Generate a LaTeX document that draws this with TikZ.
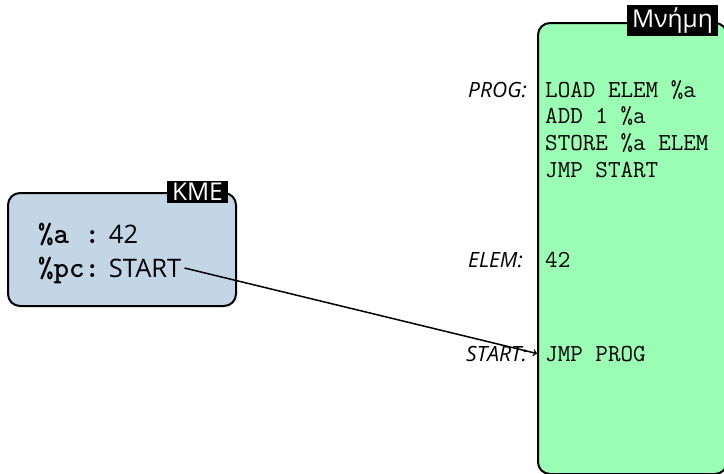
\documentclass[tikz,border=0pt]{standalone}
\usepackage{fontspec}
\setmainfont{Open Sans}
\usetikzlibrary{calc}
\definecolor{kmefill}{RGB}{195,214,230}
\definecolor{memfill}{RGB}{155,252,180}
\newcommand\kmt[1]{{\fontsize{29.5}{32}\selectfont\ttfamily\bfseries #1}}
\begin{document}
\begin{tikzpicture}[x=1pt,y=-1pt,
  box/.style={draw=black, line width=2pt, rounded corners=12pt, inner sep=0pt},
  tag/.style={fill=black, text=white, inner xsep=5pt, inner ysep=2.3pt, font=\fontsize{24.5}{28}\selectfont},
  kline/.style={anchor=base west, inner sep=0pt, font=\fontsize{25.5}{28}\selectfont},
  mline/.style={anchor=base west, inner sep=0pt, font=\fontsize{24.4}{27}\selectfont\ttfamily},
  mlabel/.style={anchor=base east, inner sep=0pt, font=\fontsize{21}{24}\selectfont\itshape},
  link/.style={->, line width=1.5pt}]
\useasboundingbox (0,0) rectangle (724,474);
\begin{scope}
  \clip (0,0) rectangle (724,474);
  \node[box, fill=memfill, minimum width=189pt, minimum height=451pt] (mem) at (632.5,248.5) {};
\end{scope}
\node[tag, anchor=east] (memtag) at ([xshift=-10pt,yshift=1.5pt]mem.north east) {Μνήμη};

\node[box, fill=kmefill, minimum width=228pt, minimum height=113pt] (kme) at (122,249.5) {};
\node[tag, anchor=east] (kmetag) at ([xshift=-9pt]kme.north east) {KME};
\node[kline] (areg) at (38,243) {\kmt{\%a :} 42};
\node[kline] (pcreg) at (38,277) {\kmt{\%pc:} START};

\node[mline] (p1) at (545,97) {LOAD ELEM \%a};
\node[mline] (p2) at (545,123.7) {ADD 1 \%a};
\node[mline] (p3) at (545,150.4) {STORE \%a ELEM};
\node[mline] (p4) at (545,177) {JMP START};
\node[mline] (elemv) at (545,267) {42};
\node[mline] (jmp) at (545,361) {JMP PROG};

\node[mlabel] (lprog) at (527,97) {PROG:};
\node[mlabel] (lelem) at (523,267) {ELEM:};
\node[mlabel] (lstart) at (527,361) {START:};

\coordinate (pcend) at ($(pcreg.base east)+(3,-9)$);
\draw[link] (pcend) -- (mem.west |- jmp);
\end{tikzpicture}
\end{document}
